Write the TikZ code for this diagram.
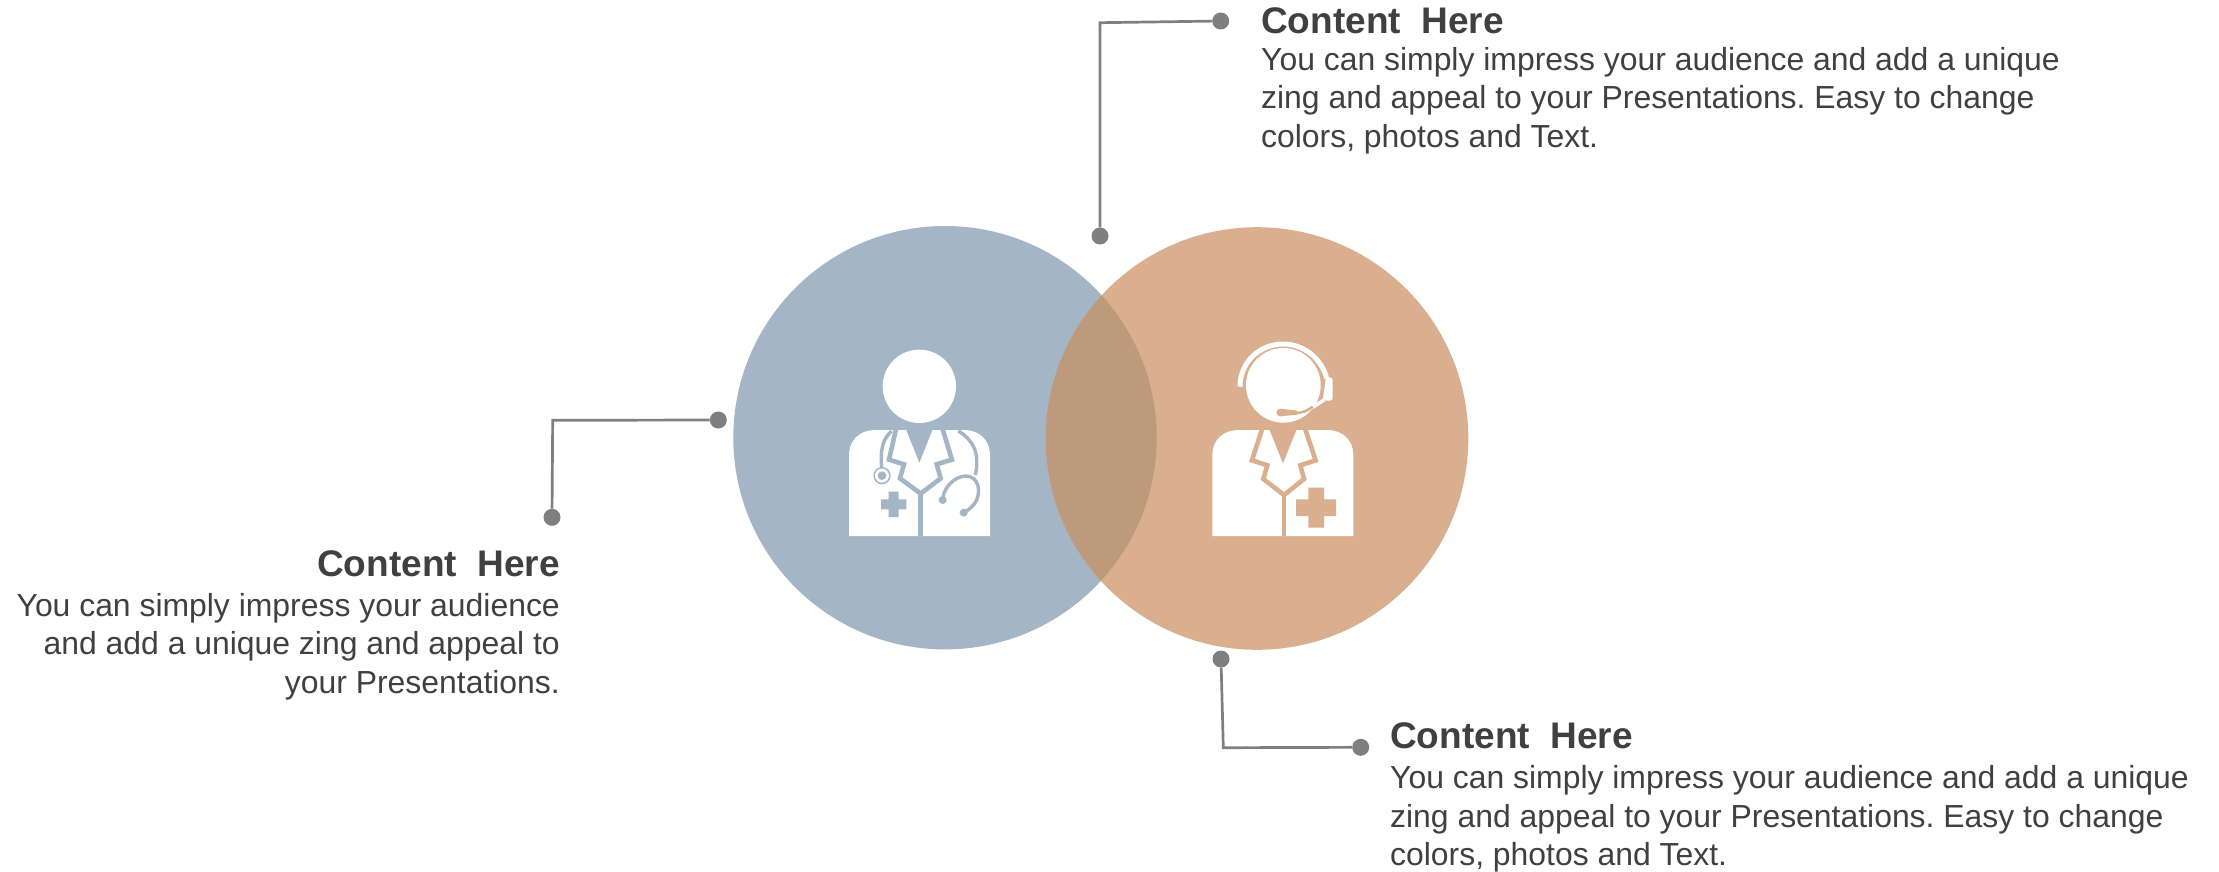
\documentclass[tikz,border=0pt]{standalone}
\usepackage{fontspec}
\setmainfont{Liberation Sans}
\definecolor{cblue}{HTML}{A4B5C6}
\definecolor{corange}{HTML}{DAAF8F}
\definecolor{cmix}{HTML}{BD9A7B}
\definecolor{cline}{HTML}{7F7F7F}
\definecolor{ctext}{HTML}{404040}
\tikzset{
  dotnode/.style={circle,fill=cline,draw=none,minimum size=17pt,inner sep=0pt},
  conn/.style={draw=cline,line width=2.7pt,line join=miter},
  titletext/.style={font=\fontsize{37}{40}\selectfont\bfseries\frenchspacing,text=ctext,inner sep=0pt},
  bodytext/.style={font=\fontsize{31.9}{38.5}\selectfont\frenchspacing,text=ctext,inner sep=0pt},
  iconline/.style={line width=#1pt,line join=miter,line cap=butt}
}
\begin{document}
\begin{tikzpicture}[x=1pt,y=-1pt]
\useasboundingbox (0,0) rectangle (2219,872);
% circles
\fill[cblue] (945,437.7) circle[radius=211.7];
\fill[corange] (1257,438.5) circle[radius=211.3];
\begin{scope}
\clip (945,437.7) circle[radius=211.7];
\fill[cmix] (1257,438.5) circle[radius=211.3];
\end{scope}
% doctor icon
\begin{scope}[shift={(820,320)},scale=1/3]
\fill[white] (298,199) circle[radius=110];
\fill[white] (87,648) -- (87,405) .. controls (87,360) and (120,330) .. (165,330) -- (432,330) .. controls (477,330) and (510,360) .. (510,405) -- (510,648) -- cycle;
\fill[cblue] (295,515) rectangle (309,648);
\fill[cblue] (258,328) -- (298,428) -- (338,328) -- cycle;
\draw[cblue,iconline=4.6] (228,328) -- (207,419) -- (252,433) -- (240,475) -- (302,521) -- (362,475) -- (350,433) -- (396,419) -- (368,328);
\draw[cblue,iconline=3.4] (215,333) .. controls (190,355) and (180,385) .. (185,445);
\draw[cblue,iconline=3.4] (415,333) .. controls (460,360) and (480,400) .. (466,465);
\fill[cblue] (186,467) circle[radius=26];
\fill[white] (186,467) circle[radius=21];
\fill[cblue] (186,467) circle[radius=13];
\draw[cblue,iconline=3.4] (368,535) .. controls (375,490) and (420,460) .. (450,470) .. controls (485,482) and (480,535) .. (460,555) .. controls (450,566) and (442,572) .. (432,578);
\fill[cblue] (368,540) circle[radius=12];
\fill[cblue] (431,578) circle[radius=12];
\fill[cblue] (206,515) -- (236,515) -- (236,538) -- (259,538) -- (259,568) -- (236,568) -- (236,591) -- (206,591) -- (206,568) -- (183,568) -- (183,538) -- (206,538) -- cycle;
\end{scope}
% agent icon
\begin{scope}[shift={(1190,320)},scale=1/3]
\fill[white] (280,196) circle[radius=112];
\fill[white] (67,648) -- (67,405) .. controls (67,360) and (100,330) .. (145,330) -- (412,330) .. controls (457,330) and (490,360) .. (490,405) -- (490,648) -- cycle;
\fill[corange] (275,525) rectangle (289,648);
\fill[corange] (238,328) -- (279,430) -- (320,328) -- cycle;
\draw[corange,iconline=4.6] (216,328) -- (186,421) -- (232,436) -- (220,477) -- (282,525) -- (342,477) -- (331,436) -- (377,421) -- (346,328);
\fill[corange] (355,503) -- (402,503) -- (402,538) -- (438,538) -- (438,588) -- (402,588) -- (402,623) -- (355,623) -- (355,588) -- (318,588) -- (318,538) -- (355,538) -- cycle;
\draw[white,iconline=5] (150,200) .. controls (150,125) and (210,72) .. (280,72) .. controls (340,72) and (395,115) .. (410,175);
\fill[white] (408,172) -- (420,172) .. controls (425,172) and (428,176) .. (428,182) -- (428,232) .. controls (428,238) and (425,242) .. (420,242) -- (398,242) -- cycle;
\draw[white,iconline=3.5] (368,262) -- (402,240);
\draw[corange,iconline=2.5] (318,279) .. controls (340,278) and (352,272) .. (368,260);
\fill[corange] (270,266) .. controls (256,266) and (256,289) .. (270,289) -- (322,284) -- (322,272) -- cycle;
\end{scope}
% connectors
\node[dotnode] (ta) at (1220.7,21) {};
\node[dotnode] (tb) at (1100,236) {};
\coordinate (tc) at (1100,22.7);
\draw[conn] (ta) -- (tc) -- (tb);
\node[dotnode] (la) at (718.3,420) {};
\node[dotnode] (lb) at (552,517.3) {};
\coordinate (lc) at (552.7,420.3);
\draw[conn] (la) -- (lc) -- (lb);
\node[dotnode] (ba) at (1221,659) {};
\node[dotnode] (bb) at (1360.7,747.3) {};
\coordinate (bc) at (1223.3,747.7);
\draw[conn] (ba) -- (bc) -- (bb);
% texts
\node[titletext,anchor=base west] (t1) at (1261,33.3) {Content\ \ Here};
\node[bodytext,anchor=north west,align=left] (t1b) at (1261,47) {You can simply impress your audience and add a unique\\zing and appeal to your Presentations. Easy to change\\colors, photos and Text.};
\node[titletext,anchor=base east] (t2) at (560,576) {Content\ \ Here};
\node[bodytext,anchor=north east,align=right] (t2b) at (560,593) {You can simply impress your audience\\and add a unique zing and appeal to\\your Presentations.};
\node[titletext,anchor=base west] (t3) at (1390,748) {Content\ \ Here};
\node[bodytext,anchor=north west,align=left] (t3b) at (1390,765.5) {You can simply impress your audience and add a unique\\zing and appeal to your Presentations. Easy to change\\colors, photos and Text.};
\end{tikzpicture}
\end{document}
